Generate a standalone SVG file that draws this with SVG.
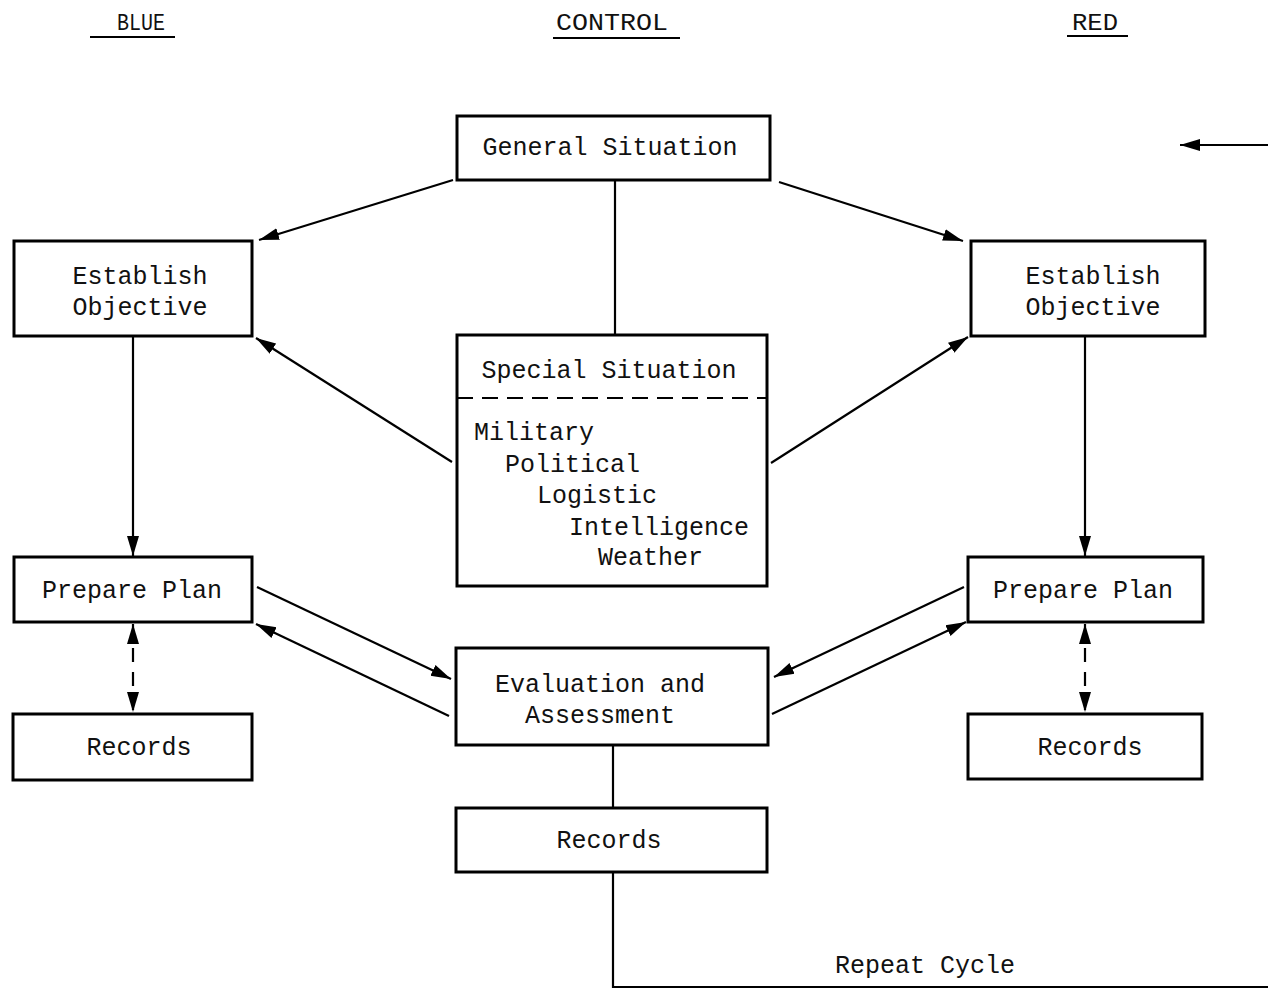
<svg xmlns="http://www.w3.org/2000/svg" width="1268" height="990" viewBox="0 0 1268 990">
  <defs>
    <marker id="arr" markerUnits="userSpaceOnUse" markerWidth="22" markerHeight="14" refX="20" refY="7" orient="auto-start-reverse">
      <path d="M0,1 L20,7 L0,13 Z" fill="#000"/>
    </marker>
    <style>
      .box { fill: #fff; stroke: #000; stroke-width: 3; }
      .t { font-family: "Liberation Mono", "Courier New", monospace; font-size: 25px; fill: #111; }
      .h { font-family: "Liberation Mono", "Courier New", monospace; font-size: 24px; fill: #111; }
      .c { text-anchor: middle; }
      .ln { fill: none; stroke: #000; stroke-width: 2.2; }
      .ar { marker-end: url(#arr); }
      .dash { stroke-dasharray: 14 10; }
    </style>
  </defs>
  <rect width="1268" height="990" fill="#fff"/>

  <!-- column headings -->
  <g id="headings">
    <text class="h" x="117" y="30" textLength="48" lengthAdjust="spacingAndGlyphs">BLUE</text>
    <line x1="90" y1="37" x2="175" y2="37" stroke="#000" stroke-width="2"/>
    <text class="h" x="556" y="30" textLength="112" lengthAdjust="spacingAndGlyphs">CONTROL</text>
    <line x1="553" y1="38" x2="680" y2="38" stroke="#000" stroke-width="2"/>
    <text class="h" x="1072" y="30" textLength="46" lengthAdjust="spacingAndGlyphs">RED</text>
    <line x1="1067" y1="36" x2="1128" y2="36" stroke="#000" stroke-width="2"/>
  </g>

  <!-- connectors -->
  <g id="connectors">
    <line class="ln ar" x1="1268" y1="145" x2="1180" y2="145"/>
    <line class="ln" x1="615" y1="180" x2="615" y2="335"/>
    <line class="ln ar" x1="453" y1="180" x2="259" y2="240"/>
    <line class="ln ar" x1="779" y1="182" x2="963" y2="241"/>
    <line class="ln ar" x1="452" y1="462" x2="256" y2="338"/>
    <line class="ln ar" x1="771" y1="463" x2="968" y2="337"/>
    <line class="ln ar" x1="133" y1="336" x2="133" y2="556"/>
    <line class="ln ar" x1="1085" y1="336" x2="1085" y2="556"/>
    <line class="ln ar" x1="257" y1="587" x2="451" y2="679"/>
    <line class="ln ar" x1="449" y1="716" x2="256" y2="624"/>
    <line class="ln ar" x1="964" y1="587" x2="774" y2="677"/>
    <line class="ln ar" x1="772" y1="714" x2="966" y2="622"/>
    <line class="ln dash" x1="133" y1="624" x2="133" y2="712" marker-start="url(#arr)" marker-end="url(#arr)"/>
    <line class="ln dash" x1="1085" y1="624" x2="1085" y2="712" marker-start="url(#arr)" marker-end="url(#arr)"/>
    <line class="ln" x1="613" y1="745" x2="613" y2="808"/>
    <polyline class="ln" points="613,872 613,987 1268,987"/>
    <text class="t" x="835" y="973">Repeat Cycle</text>
  </g>

  <g id="general-situation">
    <rect class="box" x="457" y="116" width="313" height="64"/>
    <text class="t c" x="610" y="155">General Situation</text>
  </g>

  <g id="blue-objective">
    <rect class="box" x="14" y="241" width="238" height="95"/>
    <text class="t c" x="140" y="284">Establish</text>
    <text class="t c" x="140" y="315">Objective</text>
  </g>

  <g id="red-objective">
    <rect class="box" x="971" y="241" width="234" height="95"/>
    <text class="t c" x="1093" y="284">Establish</text>
    <text class="t c" x="1093" y="315">Objective</text>
  </g>

  <g id="special-situation">
    <rect class="box" x="457" y="335" width="310" height="251"/>
    <text class="t c" x="609" y="378">Special Situation</text>
    <line x1="457" y1="398" x2="767" y2="398" stroke="#000" stroke-width="2" stroke-dasharray="16 9"/>
    <text class="t" x="474" y="440">Military</text>
    <text class="t" x="505" y="472">Political</text>
    <text class="t" x="537" y="503">Logistic</text>
    <text class="t" x="569" y="535">Intelligence</text>
    <text class="t" x="598" y="565">Weather</text>
  </g>

  <g id="blue-plan">
    <rect class="box" x="14" y="557" width="238" height="65"/>
    <text class="t c" x="132" y="598">Prepare Plan</text>
  </g>

  <g id="red-plan">
    <rect class="box" x="968" y="557" width="235" height="65"/>
    <text class="t c" x="1083" y="598">Prepare Plan</text>
  </g>

  <g id="evaluation">
    <rect class="box" x="456" y="648" width="312" height="97"/>
    <text class="t c" x="600" y="692">Evaluation and</text>
    <text class="t c" x="600" y="723">Assessment</text>
  </g>

  <g id="blue-records">
    <rect class="box" x="13" y="714" width="239" height="66"/>
    <text class="t c" x="139" y="755">Records</text>
  </g>

  <g id="red-records">
    <rect class="box" x="968" y="714" width="234" height="65"/>
    <text class="t c" x="1090" y="755">Records</text>
  </g>

  <g id="control-records">
    <rect class="box" x="456" y="808" width="311" height="64"/>
    <text class="t c" x="609" y="848">Records</text>
  </g>
</svg>
